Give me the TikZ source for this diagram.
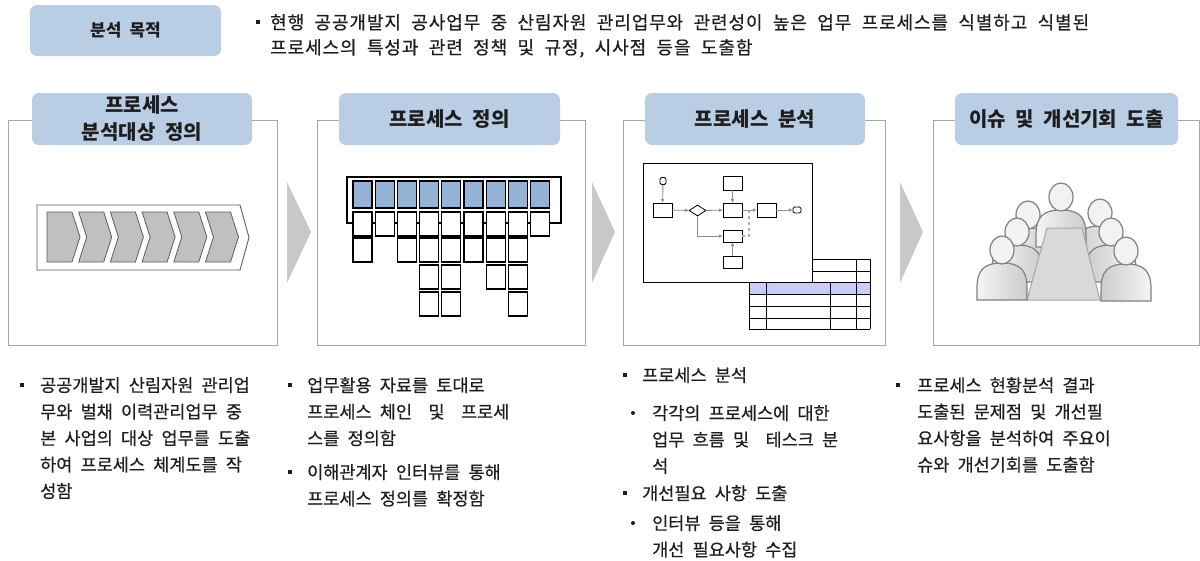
\documentclass[tikz,border=0pt]{standalone}
\usepackage{fontspec}
\setmainfont{Noto Sans CJK KR}[WordSpace=2.1]
\newfontfamily\notefont{Noto Sans CJK KR}[WordSpace=2.1, FakeBold=0.5]
\usetikzlibrary{arrows.meta,shapes.geometric}

\definecolor{titleblue}{RGB}{185,205,229}
\definecolor{cellblue}{RGB}{149,179,215}
\definecolor{framegray}{RGB}{166,166,166}
\definecolor{arrowgray}{RGB}{200,200,200}
\definecolor{chevgray}{RGB}{192,192,192}
\definecolor{chevline}{RGB}{90,90,120}
\definecolor{rowblue}{RGB}{204,204,250}
\definecolor{flowgray}{RGB}{140,140,140}
\definecolor{peopleline}{RGB}{128,128,128}
\definecolor{textdark}{RGB}{30,30,30}

\tikzset{
  titlebox/.style={fill=titleblue, rounded corners=7pt, inner sep=0, align=center,
    font=\bfseries\fontsize{20}{27}\selectfont, text=textdark,
    minimum width=220pt, minimum height=52pt},
  panel/.style={draw=framegray, line width=1pt},
  bodytext/.style={anchor=north west, align=left, inner sep=0, text=textdark,
    font=\notefont\fontsize{17.5}{26.5}\selectfont},
  sqbullet/.style={rectangle, fill=textdark, minimum size=4.5pt, inner sep=0},
  dotbullet/.style={circle, fill=textdark, minimum size=4pt, inner sep=0},
  chevron/.style={draw=chevline, fill=chevgray, line width=0.8pt},
  cell/.style={draw=black, fill=white, line width=1.1pt},
  bluecell/.style={draw=black, fill=cellblue, line width=1.1pt},
  flowbox/.style={draw=black, fill=white, minimum width=19pt, minimum height=14pt,
    inner sep=0, line width=0.8pt},
  flowend/.style={draw=black, fill=white, rounded corners=1.5pt, minimum width=6pt,
    minimum height=7pt, inner sep=0, line width=0.8pt},
  flowdec/.style={diamond, draw=black, fill=white, minimum width=17pt,
    minimum height=11pt, inner sep=0, line width=0.8pt},
  flowarrow/.style={draw=flowgray, line width=0.9pt, -{Latex[length=3.5pt,width=3.5pt]}}
}

\newcommand{\person}[4]{%
  \draw[peopleline, line width=1.2pt, left color=#3, right color=#4]
    (#1-25,#2+50) -- (#1-25,#2+38)
    .. controls (#1-25,#2+20) and (#1-18,#2+13) .. (#1,#2+13)
    .. controls (#1+18,#2+13) and (#1+25,#2+20) .. (#1+25,#2+38)
    -- (#1+25,#2+50) -- cycle;
  \draw[peopleline, line width=1.2pt, fill=gray!10] (#1,#2) ellipse [x radius=12, y radius=14];
}

\begin{document}
\begin{tikzpicture}[x=1pt,y=-1pt]
            \useasboundingbox (0,0) rectangle (1200,560);

            \node[titlebox, font=\bfseries\fontsize{17}{20}\selectfont,
              minimum width=191pt, minimum height=51pt] (goal) at (125.5,30.5) {분석 목적};
            \node[sqbullet] (goalbul) at (258,22) {};
            \node[bodytext, font=\notefont\fontsize{18}{25}\selectfont\addfontfeature{LetterSpace=5}]
              (goaltext) at (270,14)
              {현행 공공개발지 공사업무 중 산림자원 관리업무와 관련성이 높은 업무 프로세스를 식별하고 식별된\\
               프로세스의 특성과 관련 정책 및 규정, 시사점 등을 도출함};

            \draw[panel] (8,120) rectangle (277,345);
            \draw[panel] (317,120) rectangle (585,345);
            \draw[panel] (623,120) rectangle (885,345);
            \draw[panel] (933,120) rectangle (1199,345);

            \fill[arrowgray] (287,182) -- (311,232) -- (287,283) -- cycle;
            \fill[arrowgray] (592,182) -- (615,232) -- (592,283) -- cycle;
            \fill[arrowgray] (900,182) -- (923,232) -- (900,283) -- cycle;

            \node[titlebox] (scope) at (142,119) {프로세스\\분석대상 정의};
            \node[titlebox, minimum width=221pt] (define) at (449.5,119) {프로세스 정의};
            \node[titlebox] (analyse) at (755,119) {프로세스 분석};
            \node[titlebox, minimum width=223pt] (issue) at (1066.5,119) {이슈 및 개선기회 도출};

            % value chain
            \draw[chevline, line width=0.9pt, fill=white]
              (37,205) -- (240,205) -- (249,237.5) -- (240,270) -- (37,270) -- cycle;
            \foreach \i [evaluate=\i as \cx using 47+31.7*\i,
                         evaluate=\i as \nd using (\i>0)*8] in {0,...,5}
              \draw[chevron] (\cx,212) -- (\cx+25,212) -- (\cx+33,237) -- (\cx+25,262)
                -- (\cx,262) -- (\cx+\nd,237) -- cycle;

            % process hierarchy
            \draw[line width=1.1pt] (347,223) -- (347,177) -- (561,177) -- (561,223) -- cycle;
            \foreach \c in {0,...,8}
              \draw[bluecell] (353+22.2*\c,181) rectangle ++(19,27);
            \foreach \c in {0,...,8}
              \draw[cell] (353+22.2*\c,212) rectangle ++(19,24);
            \foreach \r/\cols in {238/{0,2,3,4,5,6,7}, 265/{3,4,6,7}, 292/{3,4,7}}
              \foreach \c in \cols
                \draw[cell] (353+22.2*\c,\r) rectangle ++(19,24);

            % task table behind the flow
            \fill[rowblue] (749,282) rectangle (870,294);
            \foreach \y in {259,271,282,294,306,318,329}
              \draw[line width=1pt] (749,\y) -- (870,\y);
            \foreach \x in {749,766,856,870}
              \draw[line width=1pt] (\x,259) -- (\x,329);
            \draw[line width=1pt] (830,282) -- (830,329);

            % process flow
            \draw[line width=1pt, fill=white] (643,163) rectangle (812,282);
            \node[flowend] (fs) at (663,181) {};
            \node[flowbox] (fa) at (662.5,210) {};
            \node[flowdec] (fd) at (697.5,210.5) {};
            \node[flowbox] (ft) at (732.5,183) {};
            \node[flowbox] (fb) at (732.5,210) {};
            \node[flowbox] (fc) at (766.5,210) {};
            \node[flowend, minimum width=8pt, minimum height=6pt] (fe) at (797,210) {};
            \node[flowbox, minimum height=12pt] (fg) at (732.5,236) {};
            \node[flowbox, minimum height=12pt] (fh) at (732.5,262.5) {};
            \coordinate (fj) at (749,210);
            \draw[flowarrow] (fs) -- (fa);
            \draw[flowarrow] (fa) -- (fd);
            \draw[flowarrow] (fd) -- (fb);
            \draw[flowarrow] (ft) -- (fb);
            \draw[flowarrow] (fb) -- (fc);
            \draw[flowarrow] (fc) -- (fe);
            \draw[flowarrow] (fd.south) |- (fg);
            \draw[flowarrow] (fh) -- (fg);
            \draw[flowgray!70, dashed, line width=1.2pt] (fg.east) -| (fj);

            % meeting
            \person{1028}{215}{gray!8}{gray!40}
            \person{1100}{213}{gray!40}{gray!8}
            \person{1061}{197}{gray!8}{gray!40}
            \person{1017}{232}{gray!8}{gray!40}
            \person{1111}{232}{gray!40}{gray!8}
            \draw[framegray, line width=1pt, fill=gray!30]
              (1047,228) -- (1082,228) -- (1100,300) -- (1027,300) -- cycle;
            \person{1002}{250}{gray!8}{gray!40}
            \person{1126}{251}{gray!40}{gray!8}

            % notes
            \node[sqbullet] (n1bul) at (22,385) {};
            \node[bodytext] (n1) at (40,377)
              {공공개발지 산림자원 관리업\\무와 벌채 이력관리업무 중\\본 사업의 대상 업무를 도출\\하여 프로세스 체계도를 작\\성함};

            \node[sqbullet] (n2bul) at (290,385) {};
            \node[bodytext] (n2) at (307,377)
              {업무활용 자료를 토대로\\프로세스 체인\ \ 및\ \ 프로세\\스를 정의함};
            \node[sqbullet] (n2bulb) at (290,472) {};
            \node[bodytext] (n2b) at (307,464)
              {이해관계자 인터뷰를 통해\\프로세스 정의를 확정함};

            \node[sqbullet] (n3bul) at (625,375) {};
            \node[bodytext] (n3) at (642,367) {프로세스 분석};
            \node[dotbullet] (n3dot) at (633,413) {};
            \node[bodytext] (n3s) at (652,405)
              {각각의 프로세스에 대한\\업무 흐름 및\ \ 테스크 분\\석};
            \node[sqbullet] (n3bulb) at (625,493) {};
            \node[bodytext] (n3b) at (642,485) {개선필요 사항 도출};
            \node[dotbullet] (n3dotb) at (633,523) {};
            \node[bodytext] (n3bs) at (652,515)
              {인터뷰 등을 통해\\개선 필요사항 수집};

            \node[sqbullet] (n4bul) at (898,385) {};
            \node[bodytext] (n4) at (917,377)
              {프로세스 현황분석 결과\\도출된 문제점 및 개선필\\요사항을 분석하여 주요이\\슈와 개선기회를 도출함};
\end{tikzpicture}
\end{document}
